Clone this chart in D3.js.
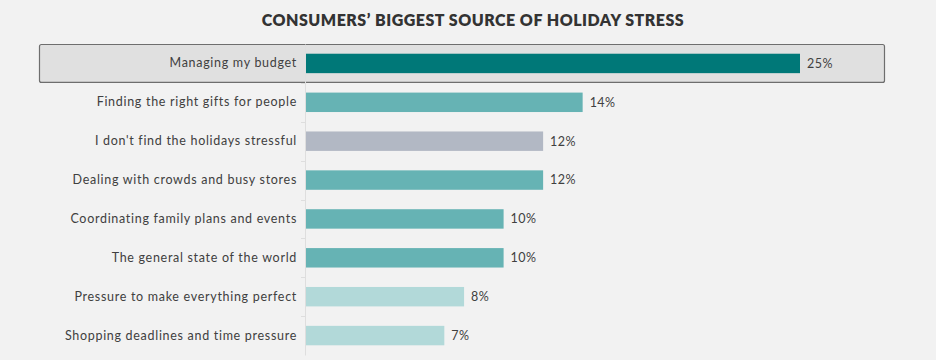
<!DOCTYPE html>
<html><head><meta charset="utf-8">
<script src="https://cdn.jsdelivr.net/npm/d3@7"></script>
<style>
html,body{margin:0;padding:0;background:#f2f2f2;}
svg{display:block;font-family:"Lato","Open Sans",sans-serif;}
</style></head>
<body>
<svg id="chart" width="936" height="360"></svg>
<script>
const title = "CONSUMERS’ BIGGEST SOURCE OF HOLIDAY STRESS";
const categories = [
  "Managing my budget",
  "Finding the right gifts for people",
  "I don't find the holidays stressful",
  "Dealing with crowds and busy stores",
  "Coordinating family plans and events",
  "The general state of the world",
  "Pressure to make everything perfect",
  "Shopping deadlines and time pressure"
];
const values = [25, 14, 12, 12, 10, 10, 8, 7];
const colors = ["#007878", "#66b3b4", "#b2b8c4", "#66b3b4", "#66b3b4", "#66b3b4", "#b2d9d9", "#b2d9d9"];
const highlightIndex = 0;

const svg = d3.select("#chart");
const x = d3.scaleLinear().domain([0, 25]).range([306, 800]);
const y = d3.scaleBand().domain(categories).range([44, 355]).paddingInner(0.5).paddingOuter(0.25);

svg.append("rect").attr("width", 936).attr("height", 360).attr("fill", "#f2f2f2");

svg.append("text").attr("x", 473).attr("y", 26).attr("text-anchor", "middle")
  .attr("font-size", 16).attr("font-weight", 800).attr("fill", "#333")
  .attr("letter-spacing", "0.5px")
  .attr("font-family", "Lato, sans-serif").text(title);

// highlight box
const step = y.step();
svg.append("rect")
  .attr("x", 39.5).attr("y", y(categories[highlightIndex]) - y.bandwidth()*0.5 + 0.5)
  .attr("width", 845).attr("height", step - 1)
  .attr("rx", 2).attr("fill", "#e0e0e0").attr("stroke", "#6e6e6e").attr("stroke-width", 1.2);

// axis
const axis = d3.axisLeft(y).tickSize(0).tickPadding(8).tickSizeOuter(0);
const ag = svg.append("g").attr("transform", "translate(305,0)").call(axis);
ag.select(".domain").attr("stroke", "#dedede");
ag.selectAll("text").attr("font-size", 12.5).attr("fill", "#404040").attr("font-family", "Lato, sans-serif").attr("letter-spacing", "0.7px");
// separator ticks between categories
svg.append("g").selectAll("line").data(categories.slice(1)).join("line")
  .attr("x1", 301).attr("x2", 305)
  .attr("y1", d => Math.round(y(d) - (step - y.bandwidth())/2) + 0.5)
  .attr("y2", d => Math.round(y(d) - (step - y.bandwidth())/2) + 0.5)
  .attr("stroke", "#dedede");

svg.append("g").selectAll("rect").data(values).join("rect")
  .attr("x", x(0)).attr("y", (d,i) => y(categories[i]))
  .attr("width", d => x(d) - x(0)).attr("height", y.bandwidth())
  .attr("fill", (d,i) => colors[i]);

svg.append("g").selectAll("text").data(values).join("text")
  .attr("x", d => x(d) + 7).attr("y", (d,i) => y(categories[i]) + y.bandwidth()/2)
  .attr("dy", "0.35em").attr("font-size", 12.5).attr("fill", "#404040")
  .attr("font-family", "Lato, sans-serif").attr("letter-spacing", "0.5px")
  .text(d => d + "%");
</script>
</body></html>
